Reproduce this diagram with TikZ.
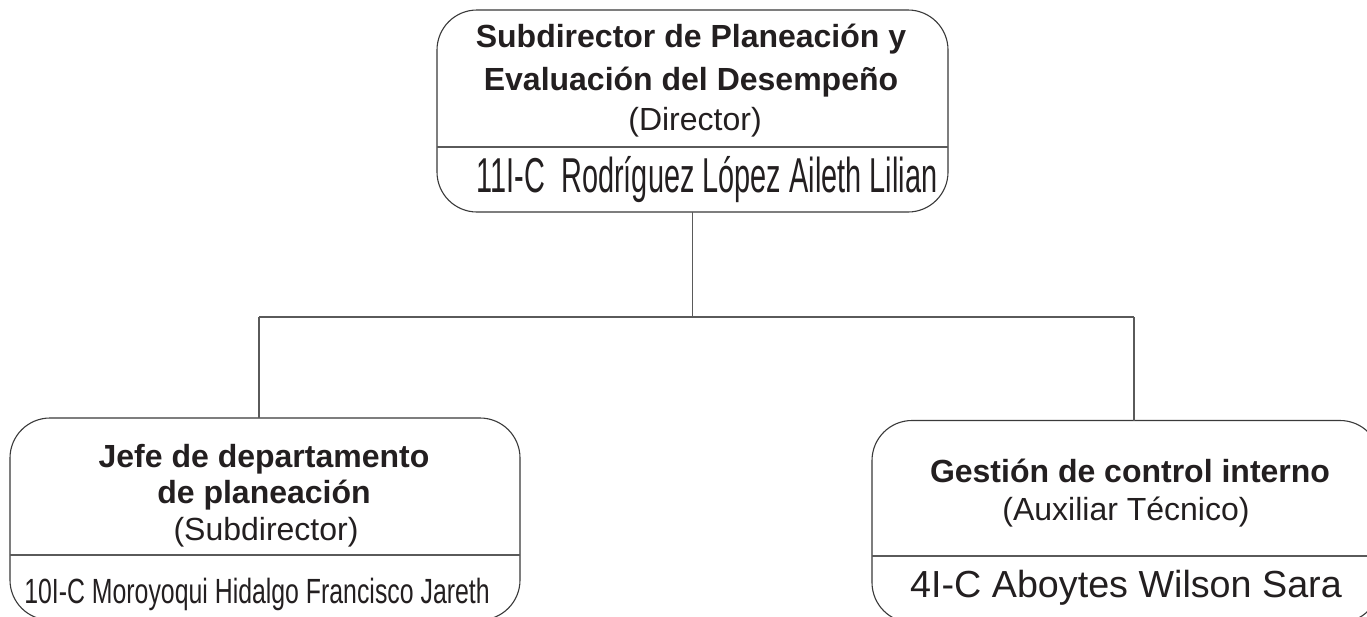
\documentclass[tikz,border=0pt]{standalone}
\usepackage{fontspec}
\usepackage{graphicx}
\setmainfont{Liberation Sans}
\definecolor{ink}{HTML}{231F20}
\definecolor{boxline}{HTML}{3A3A3A}
\definecolor{conline}{HTML}{5A5A5A}
\begin{document}
\begin{tikzpicture}[x=1pt,y=-1pt,
  orgbox/.style={draw=boxline,line width=1.1pt,rounded corners=40pt,inner sep=0pt,outer sep=0pt},
  divider/.style={draw=conline,line width=1.2pt},
  conn/.style={draw=conline,line width=1.4pt},
  title/.style={anchor=base,inner sep=0pt,text=ink,font=\fontsize{32}{38}\selectfont\bfseries},
  role/.style={anchor=base,inner sep=0pt,text=ink,font=\fontsize{32}{38}\selectfont},
  person/.style={anchor=base,inner sep=0pt,text=ink}
]
\useasboundingbox (0,0) rectangle (1367,616);
\fill[white] (0,0) rectangle (1367,616);

% boxes
\node[orgbox,minimum width=511pt,minimum height=202pt] (top) at (692.5,111) {};
\node[orgbox,minimum width=510pt,minimum height=202pt] (left) at (265,519) {};
\node[orgbox,minimum width=508pt,minimum height=202pt] (right) at (1126,521.5) {};

% dividers
\coordinate (td) at (0,147);
\coordinate (ld) at (0,555);
\coordinate (rd) at (0,556);
\draw[divider] (top.west |- td) -- (top.east |- td);
\draw[divider] (left.west |- ld) -- (left.east |- ld);
\draw[divider] (right.west |- rd) -- (right.east |- rd);

% top texts
\node[title] (t1) at (691,47) {Subdirector de Planeación y};
\node[title] (t2) at (691,90) {Evaluación del Desempeño};
\node[role] (t3) at (695,130) {(Director)};
\node[person] (t4) at (707,192) {\scalebox{0.59}[1]{\fontsize{49}{56}\selectfont 11I-C\ \ Rodríguez López Aileth Lilian}};

% left texts
\node[title] (l1) at (264,467) {Jefe de departamento};
\node[title] (l2) at (264,503) {de planeación};
\node[role] (l3) at (266,540) {(Subdirector)};
\node[person] (l4) at (257,603) {\scalebox{0.71}[1]{\fontsize{35}{42}\selectfont 10I-C Moroyoqui Hidalgo Francisco Jareth}};

% right texts
\node[title] (r1) at (1130,482) {Gestión de control interno};
\node[role] (r2) at (1126,520) {(Auxiliar Técnico)};
\node[person] (r3) at (1126,597) {\fontsize{37.7}{44}\selectfont 4I-C Aboytes Wilson Sara};

% connectors
\coordinate (jl) at (259,317);
\coordinate (jr) at (1134,317);
\coordinate (jc) at (top.south |- jl);
\draw[conn] (top.south) -- (jc);
\draw[conn] (jl) -- (jr);
\draw[conn] (jl) -- (jl |- left.north);
\draw[conn] (jr) -- (jr |- right.north);
\end{tikzpicture}
\end{document}
